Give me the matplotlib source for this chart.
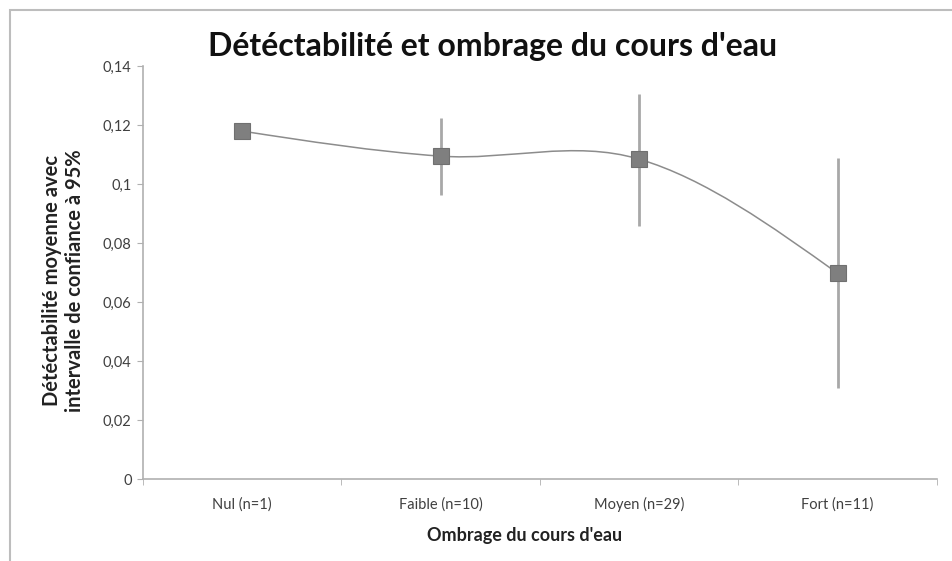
"""Detectabilite et ombrage du cours d'eau - point chart with CI bars."""

import matplotlib
matplotlib.use('Agg')
import matplotlib.pyplot as plt
from matplotlib.patches import Rectangle, PathPatch
from matplotlib.path import Path
from matplotlib.ticker import FuncFormatter, FixedLocator

# data
categories = ['Nul (n=1)', 'Faible (n=10)', 'Moyen (n=29)', 'Fort (n=11)']
means = [0.118, 0.1095, 0.1085, 0.0698]
ci_low = [0.118, 0.0963, 0.0858, 0.0308]
ci_high = [0.118, 0.1225, 0.1305, 0.1088]

plt.rcParams['font.family'] = ['Lato', 'DejaVu Sans']

fig = plt.figure(figsize=(9.52, 5.61), dpi=100)
ax = fig.add_axes([0.150, 0.146, 0.834, 0.736])

xs = list(range(len(categories)))

# smoothed line: cubic Hermite, central tangents inside, natural ends
n = len(means)
tang = [0.0] * n
for i in range(1, n - 1):
    tang[i] = (means[i + 1] - means[i - 1]) / 2
tang[0] = (3 * (means[1] - means[0]) - tang[1]) / 2
tang[-1] = (3 * (means[-1] - means[-2]) - tang[-2]) / 2
verts = [(xs[0], means[0])]
codes = [Path.MOVETO]
for i in range(n - 1):
    verts += [(xs[i] + 1 / 3, means[i] + tang[i] / 3),
              (xs[i + 1] - 1 / 3, means[i + 1] - tang[i + 1] / 3),
              (xs[i + 1], means[i + 1])]
    codes += [Path.CURVE4] * 3
ax.add_patch(PathPatch(Path(verts, codes), facecolor='none',
                       edgecolor='#8c8c8c', lw=1.1, zorder=2))

# confidence intervals
yerr = [[m - lo for m, lo in zip(means, ci_low)],
        [hi - m for m, hi in zip(means, ci_high)]]
ax.errorbar(xs, means, yerr=yerr, fmt='none', ecolor='#a8a8a8',
            elinewidth=2, capsize=0, zorder=1)
ax.plot(xs, means, linestyle='none', marker='s', markersize=11,
        markerfacecolor='#7f7f7f', markeredgecolor='#707070',
        markeredgewidth=0.8, zorder=3)

ax.set_xlim(-0.5, 3.5)
ax.set_ylim(0, 0.14)
ax.set_yticks([0, 0.02, 0.04, 0.06, 0.08, 0.1, 0.12, 0.14])


def fr_fmt(v, pos):
    s = ('%.2f' % v).rstrip('0').rstrip('.')
    return s.replace('.', ',')


ax.yaxis.set_major_formatter(FuncFormatter(fr_fmt))
ax.set_xticks(xs)
ax.set_xticklabels(categories)
ax.xaxis.set_minor_locator(FixedLocator([-0.5, 0.5, 1.5, 2.5, 3.5]))
ax.tick_params(axis='x', which='major', length=0, pad=13,
               labelsize=10.5, colors='#404040')
ax.tick_params(axis='x', which='minor', length=4, color='#b0b0b0')
ax.tick_params(axis='y', length=4, color='#b0b0b0', labelsize=10.5,
               labelcolor='#404040', pad=4)

for side in ['top', 'right']:
    ax.spines[side].set_visible(False)
for side in ['left', 'bottom']:
    ax.spines[side].set_color('#b0b0b0')
    ax.spines[side].set_linewidth(1.2)

ax.set_xlabel("Ombrage du cours d'eau", fontsize=13, fontweight='bold',
              color='#222222')
ax.xaxis.set_label_coords(0.481, -0.115)
ax.set_ylabel('Détéctabilité moyenne avec\nintervalle de confiance à 95%',
              fontsize=14.5, fontweight='bold', color='#222222',
              linespacing=1.15)
ax.yaxis.set_label_coords(-0.073, 0.48)

fig.text(0.517, 0.918, "Détéctabilité et ombrage du cours d'eau",
         ha='center', va='center', fontsize=23, fontweight='bold',
         color='#111111')

# chart-area border
fig.add_artist(Rectangle((0.011, -0.05), 1.2, 1.032, transform=fig.transFigure,
                         facecolor='none', edgecolor='#bdbdbd', lw=1.5))

fig.savefig('out.png', dpi=100)
